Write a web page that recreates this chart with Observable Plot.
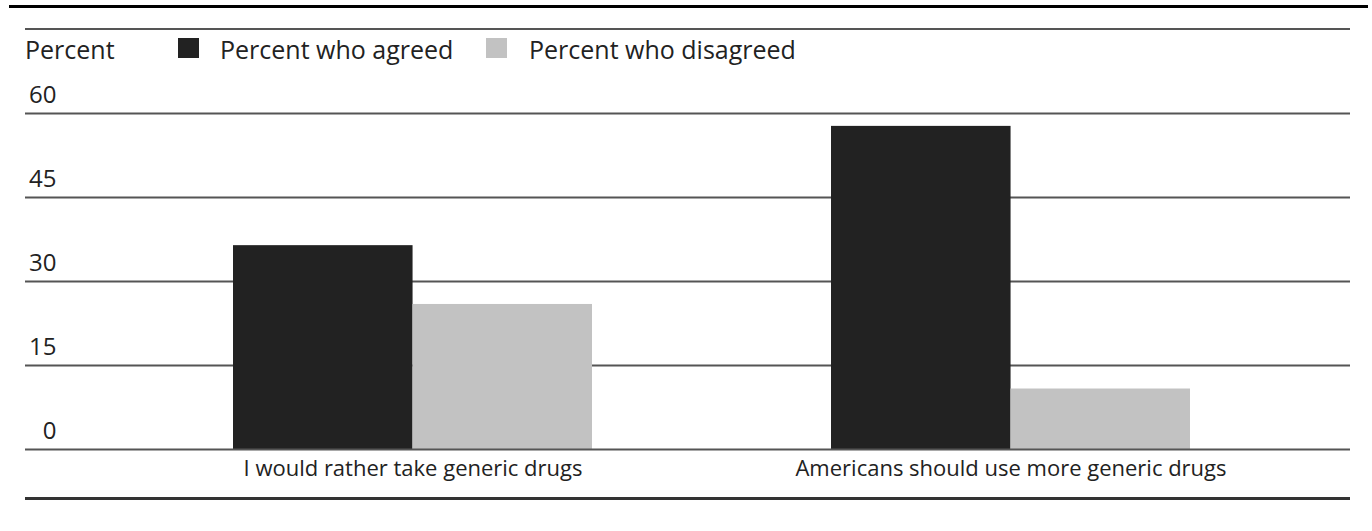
<!DOCTYPE html>
<html>
<head>
<meta charset="utf-8">
<script src="https://cdn.jsdelivr.net/npm/d3@7"></script>
<script src="https://cdn.jsdelivr.net/npm/@observablehq/plot@0.6"></script>
<style>
  html, body { margin: 0; padding: 0; background: #fff; width: 1372px; height: 531px; overflow: hidden; }
  body { position: relative; font-family: "Open Sans", "Liberation Sans", sans-serif; color: #222; }
  .abs { position: absolute; }
  #topRule { left: 9px; top: 5px; width: 1359px; height: 3px; background: #000; }
  #subRule { left: 25px; top: 28px; width: 1325px; height: 2px; background: #555; }
  #bottomRule { left: 25px; top: 497px; width: 1325px; height: 3px; background: #333; }
  .lbl { font-size: 25px; line-height: 25px; white-space: nowrap; }
  .sw { width: 21px; height: 20px; }
  #chart { left: 0; top: 70px; }
</style>
</head>
<body>
<div id="topRule" class="abs"></div>
<div id="subRule" class="abs"></div>
<div id="legend"></div>
<div id="chart" class="abs"></div>
<div id="bottomRule" class="abs"></div>
<script>
const categories = ["I would rather take generic drugs", "Americans should use more generic drugs"];
const seriesNames = ["Percent who agreed", "Percent who disagreed"];
const seriesColors = ["#222222", "#c2c2c2"];
const agreed = [36.4, 57.7];
const disagreed = [25.9, 10.8];
const yTicks = [0, 15, 30, 45, 60];
const yLabel = "Percent";

// Legend (HTML, above the SVG)
const legend = document.getElementById("legend");
function addAbs(el, cls, left, top, text) {
  const d = document.createElement("div");
  d.className = "abs " + cls;
  d.style.left = left + "px";
  d.style.top = top + "px";
  if (text != null) d.textContent = text;
  el.appendChild(d);
  return d;
}
addAbs(legend, "lbl", 25, 37, yLabel);
const swLeft = [178, 486], txtLeft = [220, 529];
seriesNames.forEach((name, i) => {
  const s = addAbs(legend, "sw", swLeft[i], 38);
  s.style.background = seriesColors[i];
  addAbs(legend, "lbl", txtLeft[i], 37, name);
});

const agreedData = categories.map((c, i) => ({category: c, value: agreed[i]}));
const disagreedData = categories.map((c, i) => ({category: c, value: disagreed[i]}));

const xRange = [233, 1190];
const padInner = 0.4;
const bandwidth = (xRange[1] - xRange[0]) / (categories.length - padInner) * (1 - padInner);
const half = bandwidth / 2;

const chart = Plot.plot({
  width: 1372,
  height: 440,
  marginTop: 43,
  marginBottom: 61,
  marginLeft: 25,
  marginRight: 22,
  style: {fontFamily: "'Open Sans', 'Liberation Sans', sans-serif", background: "transparent", color: "#222"},
  x: {domain: categories, range: xRange, paddingInner: padInner, paddingOuter: 0, axis: null},
  y: {domain: [0, 60], axis: null},
  marks: [
    Plot.ruleY(yTicks.filter(d => d !== 0), {stroke: "#555", strokeWidth: 2}),
    Plot.barY(agreedData, {x: "category", y: "value", fill: seriesColors[0], insetRight: half, insetLeft: 0}),
    Plot.barY(disagreedData, {x: "category", y: "value", fill: seriesColors[1], insetLeft: half, insetRight: 0}),
    Plot.ruleY([0], {stroke: "#555", strokeWidth: 2}),
    Plot.axisY(yTicks, {anchor: "left", tickSize: 0, tickPadding: 0, dx: 31, dy: -18, textAnchor: "end", fontSize: 24, fill: "#222", label: null}),
    Plot.axisX({anchor: "bottom", tickSize: 0, tickPadding: 11, fontSize: 22, fill: "#222", label: null})
  ]
});
document.getElementById("chart").appendChild(chart);
</script>
</body>
</html>
